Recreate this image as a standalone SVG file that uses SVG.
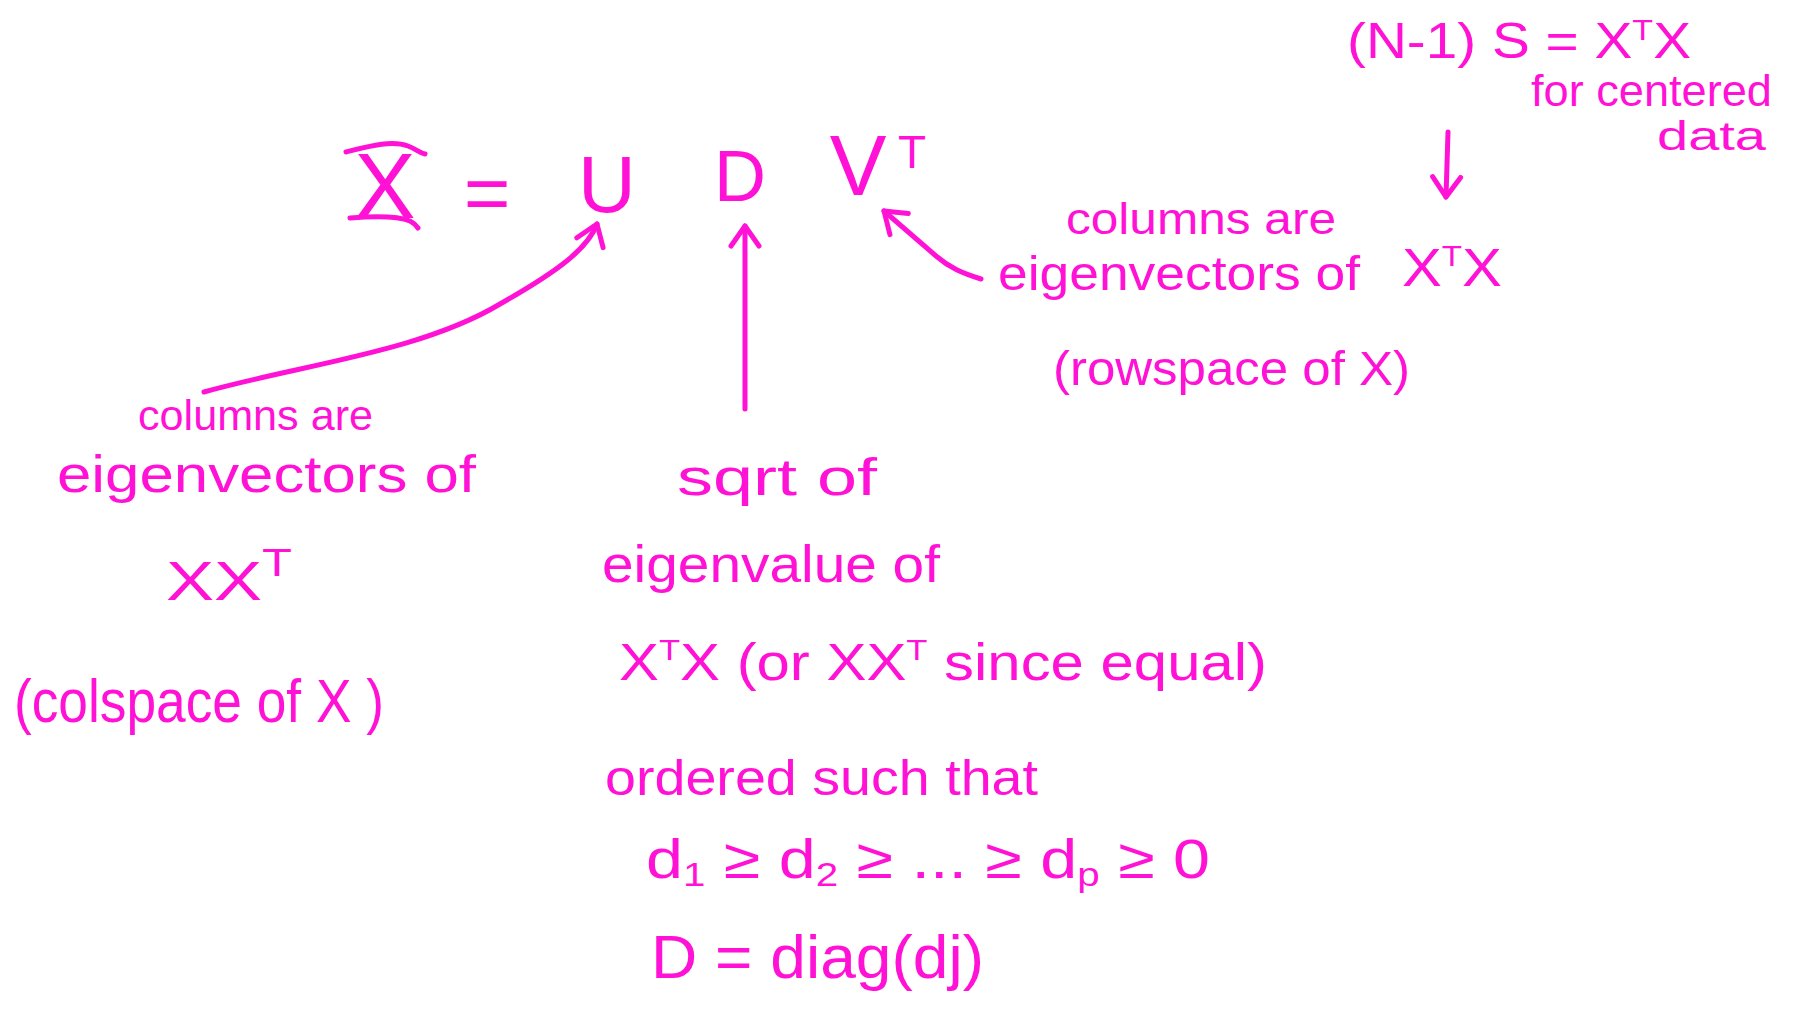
<svg xmlns="http://www.w3.org/2000/svg" width="1798" height="1013" viewBox="0 0 1798 1013">
<defs>
<style>
.t{font-family:"Liberation Sans",Arial,sans-serif;fill:#ff12d6;}
.c{fill:none;stroke:#ff12d6;stroke-width:5;stroke-linecap:round;stroke-linejoin:round;}
</style>
<marker id="ah" markerUnits="userSpaceOnUse" markerWidth="40" markerHeight="40" viewBox="-24 -20 30 40" refX="0" refY="0" orient="auto">
<path d="M-20,-14 L0,0 L-20,14" fill="none" stroke="#ff12d6" stroke-width="5" stroke-linecap="round" stroke-linejoin="round"/>
</marker>
</defs>
<rect width="1798" height="1013" fill="#ffffff"/>
<g id="node-X">
<text class="t" x="385" y="218" font-size="92" text-anchor="middle">X</text>
<path class="c" d="M346,152 C370,146 392,140 408,146 C416,149 420,153 425,154"/>
<path class="c" d="M350,218 C375,216 398,216 410,221 C414,223 416,225 418,228"/>
</g>
<g id="node-eq"><text class="t" x="487" y="220" font-size="80" text-anchor="middle">=</text></g>
<g id="node-U"><text class="t" x="607" y="212" font-size="80" text-anchor="middle">U</text></g>
<g id="node-D"><text class="t" x="740" y="201" font-size="72" text-anchor="middle">D</text></g>
<g id="node-VT"><text class="t" x="858" y="195" font-size="85" text-anchor="middle">V</text><text class="t" x="912" y="168" font-size="46" text-anchor="middle">T</text></g>
<g id="node-cov">
<text class="t" x="1347" y="58" font-size="50" textLength="344" lengthAdjust="spacingAndGlyphs">(N-1) S = X<tspan font-size="30" dy="-18">T</tspan><tspan dy="18">X</tspan></text>
<text class="t" x="1531" y="106" font-size="44" textLength="241" lengthAdjust="spacingAndGlyphs">for centered</text>
<text class="t" x="1657" y="150" font-size="40" textLength="109" lengthAdjust="spacingAndGlyphs">data</text>
</g>
<g id="node-V-desc">
<text class="t" x="1066" y="234" font-size="44" textLength="270" lengthAdjust="spacingAndGlyphs">columns are</text>
<text class="t" x="998" y="290" font-size="48" textLength="362" lengthAdjust="spacingAndGlyphs">eigenvectors of</text>
<text class="t" x="1402" y="286" font-size="54" textLength="100" lengthAdjust="spacingAndGlyphs">X<tspan font-size="30" dy="-20">T</tspan><tspan dy="20">X</tspan></text>
<text class="t" x="1053" y="385" font-size="48" textLength="357" lengthAdjust="spacingAndGlyphs">(rowspace of X)</text>
</g>
<g id="node-U-desc">
<text class="t" x="138" y="430" font-size="42" textLength="235" lengthAdjust="spacingAndGlyphs">columns are</text>
<text class="t" x="57" y="492" font-size="52" textLength="419" lengthAdjust="spacingAndGlyphs">eigenvectors of</text>
<text class="t" x="166" y="600" font-size="56" textLength="126" lengthAdjust="spacingAndGlyphs">XX<tspan font-size="38" dy="-24">T</tspan></text>
<text class="t" x="14" y="722" font-size="62" textLength="370" lengthAdjust="spacingAndGlyphs">(colspace of X )</text>
</g>
<g id="node-D-desc">
<text class="t" x="677" y="495" font-size="52" textLength="200" lengthAdjust="spacingAndGlyphs">sqrt of</text>
<text class="t" x="602" y="582" font-size="52" textLength="338" lengthAdjust="spacingAndGlyphs">eigenvalue of</text>
<text class="t" x="619" y="680" font-size="52" textLength="648" lengthAdjust="spacingAndGlyphs">X<tspan font-size="30" dy="-20">T</tspan><tspan dy="20">X (or XX</tspan><tspan font-size="30" dy="-20">T</tspan><tspan dy="20"> since equal)</tspan></text>
<text class="t" x="605" y="795" font-size="50" textLength="433" lengthAdjust="spacingAndGlyphs">ordered such that</text>
<text class="t" x="646" y="878" font-size="56" textLength="564" lengthAdjust="spacingAndGlyphs">d<tspan font-size="34" dy="8">1</tspan><tspan dy="-8"> ≥ d</tspan><tspan font-size="34" dy="8">2</tspan><tspan dy="-8"> ≥ ... ≥ d</tspan><tspan font-size="34" dy="8">p</tspan><tspan dy="-8"> ≥ 0</tspan></text>
<text class="t" x="651" y="978" font-size="62" textLength="333" lengthAdjust="spacingAndGlyphs">D = diag(dj)</text>
</g>
<g id="connectors">
<path class="c" d="M204,392 C300,365 420,352 500,304 C560,270 588,248 597,224" marker-end="url(#ah)"/>
<path class="c" d="M745,409 L745,226" marker-end="url(#ah)"/>
<path class="c" d="M981,279 C962,273 950,268 936,256 L884,211" marker-end="url(#ah)"/>
<path class="c" d="M1448,132 L1446,197" marker-end="url(#ah)"/>
</g>
</svg>
